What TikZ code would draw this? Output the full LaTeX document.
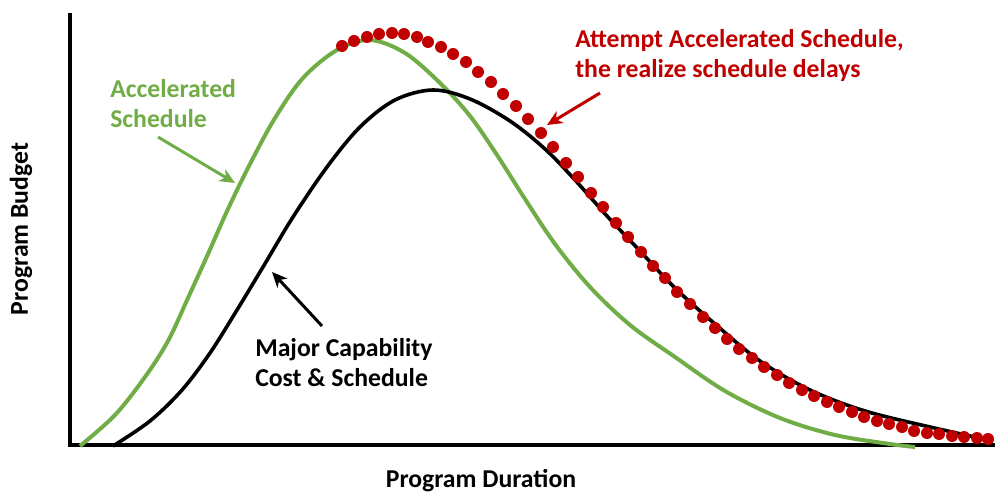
\documentclass[tikz,border=0pt]{standalone}
\usepackage{fontspec}
\setmainfont{Carlito}
\usepackage{tikz}
\usetikzlibrary{arrows.meta}

\definecolor{accgreen}{RGB}{112,173,71}
\definecolor{delayred}{RGB}{192,0,0}

\tikzset{
	labeltext/.style = {font=\fontsize{18.3}{21.6}\selectfont\bfseries, align=left, inner sep=0pt, anchor=north west},
	pointer/.style = {-{Stealth[length=3.8mm, width=3.4mm, inset=1.1mm]}, line width=0.75mm},
}

\begin{document}
\begin{tikzpicture}[x=0.25mm, y=-0.25mm]
		%frame
		\useasboundingbox (0,0) rectangle (995,492);

		%axes
		\draw [line width=1mm] (70,13) -- (70,445) -- (995,445);
		\node [labeltext, anchor=base] (xlabel) at (481,487) {Program Duration};
		\node [labeltext, anchor=base, rotate=90] (ylabel) at (28,229) {Program Budget};

		%accelerated schedule
		\draw [accgreen, line width=1mm] plot [smooth, tension=0.55] coordinates {(80,446) (115,415) (145,377) (168,341) (188,298) (208,254) (228,209) (250,164) (275,118) (303,78) (337,50) (370,40) (405,53) (440,83) (470,116) (497,155) (525,199) (555,244) (590,287) (630,325) (675,357) (725,391) (780,418) (835,435) (890,444) (915,447)};

		%major capability
		\draw [black, line width=0.9mm] plot [smooth, tension=0.55] coordinates {(113,446) (150,421) (182,390) (210,353) (237,310) (263,267) (293,217) (327,167) (360,127) (395,100) (433,90) (470,99) (510,121) (545,149) (575,180) (607,216) (640,251) (675,288) (715,324) (760,361) (810,390) (865,411) (930,427) (993,441)};

		%realized schedule
		\foreach \x/\y in {342/46, 354/41, 367/37, 379/34, 392/33, 404/34, 417/37, 428/42, 441/47, 453/54, 466/62, 478/72, 491/82, 503/94, 516/106, 528/119, 541/133, 553/147, 566/163, 578/177, 591/193, 603/207, 616/223, 628/237, 641/252, 653/266, 665/278, 677/292, 690/304, 703/317, 715/328, 727/339, 739/349, 752/358, 764/367, 777/375, 789/383, 802/390, 814/396, 827/402, 839/407, 852/412, 864/417, 877/421, 889/424, 902/427, 914/431, 927/433, 939/434, 952/436, 964/437, 977/438, 988/439}
			\fill [delayred] (\x,\y) circle [radius=6];

		%labels
		\node [labeltext, accgreen] (acclabel) at (110,79) {Accelerated\\Schedule};
		\node [labeltext] (majlabel) at (255,338) {Major Capability\\Cost \& Schedule};
		\node [labeltext, delayred] (dellabel) at (575,29) {Attempt Accelerated Schedule,\\the realize schedule delays};

		%pointers
		\coordinate (acctail) at (158,137);
		\coordinate (acctip) at (235,183);
		\coordinate (majtail) at (322,326);
		\coordinate (majtip) at (272,272);
		\coordinate (deltail) at (600,93);
		\coordinate (deltip) at (547,125);
		\draw [pointer, accgreen] (acctail) -- (acctip);
		\draw [pointer, black] (majtail) -- (majtip);
		\draw [pointer, delayred] (deltail) -- (deltip);
	\end{tikzpicture}
\end{document}
